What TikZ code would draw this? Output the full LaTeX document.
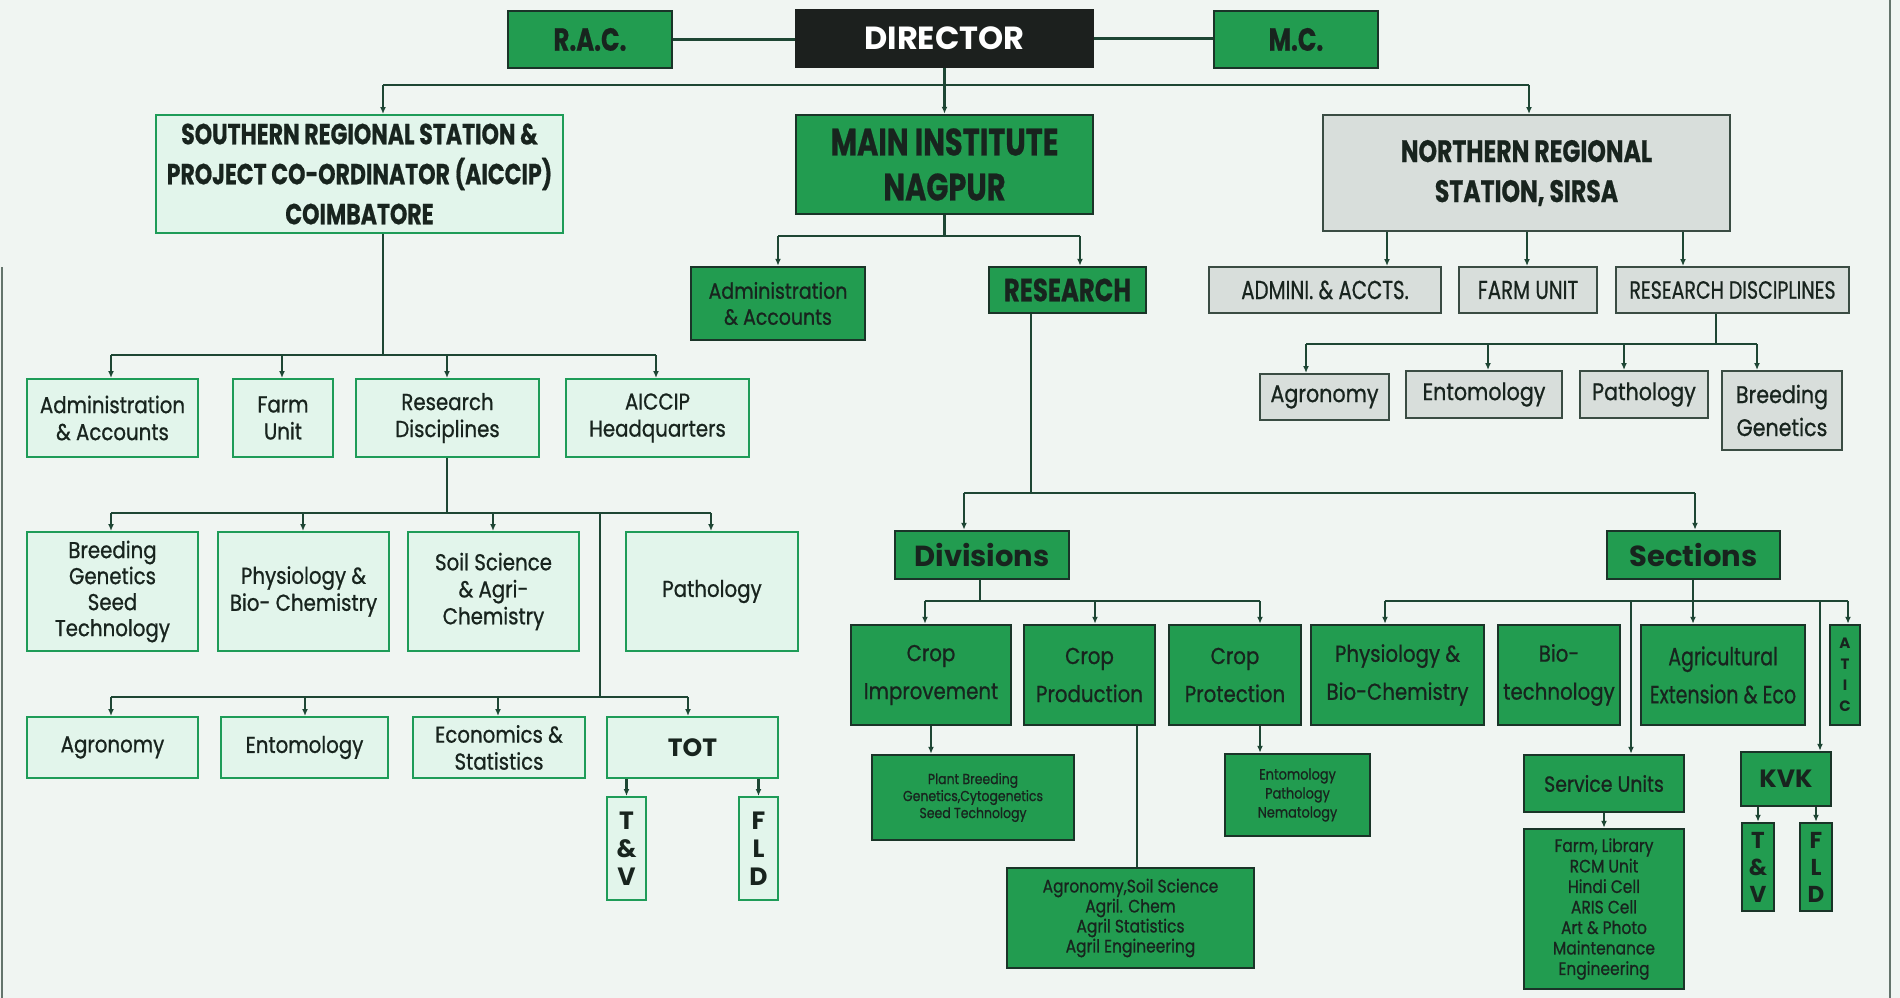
\documentclass[tikz,border=0pt]{standalone}
\usepackage{fontspec}
\setmainfont{Poppins}
\newfontfamily\cnd[FakeStretch=0.76,FakeBold=0.6]{Poppins}
\newfontfamily\nrw[FakeStretch=0.86,FakeBold=0.8]{Poppins}
\usetikzlibrary{arrows.meta,calc}
\definecolor{bgc}{RGB}{240,245,242}
\definecolor{gfill}{RGB}{34,156,80}
\definecolor{gdark}{RGB}{26,52,40}
\definecolor{lfill}{RGB}{226,245,235}
\definecolor{lborder}{RGB}{30,156,88}
\definecolor{yfill}{RGB}{216,222,219}
\definecolor{ydark}{RGB}{58,76,67}
\definecolor{lc}{RGB}{30,70,52}
\definecolor{tdark}{RGB}{24,36,30}
\definecolor{dfill}{RGB}{28,32,30}
\definecolor{edgec}{RGB}{100,116,108}
\begin{document}
\begin{tikzpicture}[x=1pt,y=-1pt,
  gbox/.style={rectangle,draw=gdark,fill=gfill,line width=2.5pt,text=tdark,align=center,inner sep=0pt},
  lbox/.style={rectangle,draw=lborder,fill=lfill,line width=2pt,text=tdark,align=center,inner sep=0pt},
  ybox/.style={rectangle,draw=ydark,fill=yfill,line width=2pt,text=tdark,align=center,inner sep=0pt},
  dbox/.style={rectangle,draw=dfill,fill=dfill,line width=2pt,text=white,align=center,inner sep=0pt},
  conn/.style={draw=lc,line width=2.5pt},
  arr/.style={conn,-{Latex[length=7pt,width=6pt]}},
  edge/.style={draw=edgec,line width=2pt}]
\fill[bgc] (0,0) rectangle (1900,998);
\useasboundingbox (0,0) rectangle (1900,998);
\draw[edge] (1.5,267) -- (1.5,998);
\draw[edge] (1890,0) -- (1890,998);

% top row
\node[dbox,minimum width=297,minimum height=57,font=\fontsize{32}{36}\selectfont\bfseries] (dir) at (944.5,38.5) {DIRECTOR};
\node[gbox,minimum width=164,minimum height=57,font=\cnd\fontsize{32}{36}\selectfont\bfseries] (rac) at (590,39.5) {R.A.C.};
\node[gbox,minimum width=164,minimum height=57,font=\cnd\fontsize{32}{36}\selectfont\bfseries] (mc) at (1296,39.5) {M.C.};

% second row
\node[lbox,minimum width=407,minimum height=118,font=\cnd\fontsize{29}{40}\selectfont\bfseries] (srs) at (359.5,174) {SOUTHERN REGIONAL STATION \&\\PROJECT CO-ORDINATOR (AICCIP)\\COIMBATORE};
\node[gbox,minimum width=297,minimum height=99,font=\cnd\fontsize{38}{45}\selectfont\bfseries] (main) at (944.5,164.5) {MAIN INSTITUTE\\NAGPUR};
\node[ybox,minimum width=407,minimum height=116,font=\cnd\fontsize{31}{40}\selectfont\bfseries] (nrs) at (1526.5,173) {NORTHERN REGIONAL\\STATION, SIRSA};

% main institute children
\node[gbox,minimum width=174,minimum height=73,font=\nrw\fontsize{22}{26}\selectfont] (adm) at (778,303.5) {Administration\\\& Accounts};
\node[gbox,minimum width=157,minimum height=46,font=\cnd\fontsize{32}{34}\selectfont\bfseries] (res) at (1067.5,290) {RESEARCH};

% northern children
\node[ybox,minimum width=232,minimum height=46,font=\cnd\fontsize{26}{28}\selectfont] (nadm) at (1325,290) {ADMINI. \& ACCTS.};
\node[ybox,minimum width=138,minimum height=46,font=\cnd\fontsize{26}{28}\selectfont] (nfarm) at (1528,290) {FARM UNIT};
\node[ybox,minimum width=233,minimum height=46,font=\cnd\fontsize{25}{28}\selectfont] (nres) at (1732.5,290) {RESEARCH DISCIPLINES};
\node[ybox,minimum width=129,minimum height=46,font=\nrw\fontsize{24}{28}\selectfont] (nagr) at (1324.5,397) {Agronomy};
\node[ybox,minimum width=156,minimum height=47,font=\nrw\fontsize{24}{28}\selectfont] (nent) at (1484,394.5) {Entomology};
\node[ybox,minimum width=128,minimum height=47,font=\nrw\fontsize{24}{28}\selectfont] (npat) at (1644,394.5) {Pathology};
\node[ybox,minimum width=120,minimum height=79,font=\nrw\fontsize{24}{33}\selectfont] (nbre) at (1782,410.5) {Breeding\\Genetics};

% southern children
\node[lbox,minimum width=171,minimum height=78,font=\nrw\fontsize{23}{27}\selectfont] (sadm) at (112.5,418) {Administration\\\& Accounts};
\node[lbox,minimum width=100,minimum height=78,font=\nrw\fontsize{23}{27}\selectfont] (sfarm) at (283,418) {Farm\\Unit};
\node[lbox,minimum width=183,minimum height=78,font=\nrw\fontsize{23}{27}\selectfont] (sres) at (447.5,418) {Research\\Disciplines};
\node[lbox,minimum width=183,minimum height=78,font=\nrw\fontsize{23}{27}\selectfont] (saic) at (657.5,418) {AICCIP\\Headquarters};

\node[lbox,minimum width=171,minimum height=119,font=\nrw\fontsize{23}{26}\selectfont] (sbre) at (112.5,591.5) {Breeding\\Genetics\\Seed\\Technology};
\node[lbox,minimum width=171,minimum height=119,font=\nrw\fontsize{23}{27}\selectfont] (sphy) at (303.5,591.5) {Physiology \&\\Bio- Chemistry};
\node[lbox,minimum width=171,minimum height=119,font=\nrw\fontsize{23}{27}\selectfont] (ssoil) at (493.5,591.5) {Soil Science\\\& Agri-\\Chemistry};
\node[lbox,minimum width=172,minimum height=119,font=\nrw\fontsize{23}{27}\selectfont] (spat) at (712,591.5) {Pathology};

\node[lbox,minimum width=171,minimum height=61,font=\nrw\fontsize{23}{27}\selectfont] (sagr) at (112.5,747.5) {Agronomy};
\node[lbox,minimum width=167,minimum height=61,font=\nrw\fontsize{23}{27}\selectfont] (sent) at (304.5,747.5) {Entomology};
\node[lbox,minimum width=172,minimum height=61,font=\nrw\fontsize{23}{27}\selectfont] (secon) at (499,747.5) {Economics \&\\Statistics};
\node[lbox,minimum width=171,minimum height=61,font=\fontsize{25}{28}\selectfont\bfseries] (tot) at (692.5,747.5) {TOT};
\node[lbox,minimum width=39,minimum height=103,font=\fontsize{25}{28}\selectfont\bfseries] (stv) at (626.5,848.5) {T\\\&\\V};
\node[lbox,minimum width=39,minimum height=103,font=\fontsize{25}{28}\selectfont\bfseries] (sfld) at (758.5,848.5) {F\\L\\D};

% research children
\node[gbox,minimum width=174,minimum height=48,font=\fontsize{29}{34}\selectfont\bfseries] (div) at (982,555) {Divisions};
\node[gbox,minimum width=173,minimum height=48,font=\fontsize{29}{34}\selectfont\bfseries] (sec) at (1693.5,555) {Sections};

\node[gbox,minimum width=160,minimum height=100,font=\nrw\fontsize{23}{38}\selectfont] (cimp) at (931,675) {Crop\\Improvement};
\node[gbox,minimum width=131,minimum height=100,font=\nrw\fontsize{23}{38}\selectfont] (cprod) at (1089.5,675) {Crop\\Production};
\node[gbox,minimum width=132,minimum height=100,font=\nrw\fontsize{23}{38}\selectfont] (cprot) at (1235,675) {Crop\\Protection};
\node[gbox,minimum width=173,minimum height=100,font=\nrw\fontsize{23}{38}\selectfont] (phy2) at (1397.5,675) {Physiology \&\\Bio-Chemistry};
\node[gbox,minimum width=122,minimum height=100,font=\nrw\fontsize{23}{38}\selectfont] (bio) at (1559,675) {Bio-\\technology};
\node[gbox,minimum width=164,minimum height=100,font=\cnd\fontsize{25}{38}\selectfont] (agext) at (1723,675) {Agricultural\\Extension \& Eco};
\node[gbox,minimum width=30,minimum height=100,font=\fontsize{15}{21}\selectfont\bfseries] (atic) at (1845,675) {A\\T\\I\\C};

\node[gbox,minimum width=202,minimum height=85,font=\nrw\fontsize{14.5}{17}\selectfont] (pbre) at (973,797.5) {Plant Breeding\\Genetics,Cytogenetics\\Seed Technology};
\node[gbox,minimum width=247,minimum height=100,font=\nrw\fontsize{18}{20}\selectfont] (agsoil) at (1130.5,918) {Agronomy,Soil Science\\Agril. Chem\\Agril Statistics\\Agril Engineering};
\node[gbox,minimum width=145,minimum height=82,font=\nrw\fontsize{15}{19}\selectfont] (epn) at (1297.5,795) {Entomology\\Pathology\\Nematology};

\node[gbox,minimum width=160,minimum height=57,font=\nrw\fontsize{22}{26}\selectfont] (svc) at (1604,783.5) {Service Units};
\node[gbox,minimum width=160,minimum height=160,font=\nrw\fontsize{18}{20.5}\selectfont] (flist) at (1604,909) {Farm, Library\\RCM Unit\\Hindi Cell\\ARIS Cell\\Art \& Photo\\Maintenance\\Engineering};
\node[gbox,minimum width=90,minimum height=54,font=\fontsize{25}{30}\selectfont\bfseries] (kvk) at (1786,779) {KVK};
\node[gbox,minimum width=32,minimum height=88,font=\fontsize{23}{27}\selectfont\bfseries] (ktv) at (1758,867) {T\\\&\\V};
\node[gbox,minimum width=32,minimum height=88,font=\fontsize{23}{27}\selectfont\bfseries] (kfld) at (1816,867) {F\\L\\D};

% ---- connectors ----
\draw[conn] (rac.east) -- (rac.east -| dir.west);
\draw[conn] (dir.east) -- (dir.east -| mc.west);
\coordinate (b0) at (944.5,85);
\coordinate (bL) at (383,85);
\coordinate (bR) at (1529,85);
\draw[conn] (dir.south) -- (b0);
\draw[conn] (bL) -- (bR);
\draw[arr] (bL) -- (bL |- srs.north);
\draw[arr] (b0) -- (main.north);
\draw[arr] (bR) -- (bR |- nrs.north);

% main institute
\coordinate (mb) at (944.5,236);
\coordinate (mbL) at (778,236);
\coordinate (mbR) at (1080,236);
\draw[conn] (main.south) -- (mb);
\draw[conn] (mbL) -- (mbR);
\draw[arr] (mbL) -- (adm.north);
\draw[arr] (mbR) -- (mbR |- res.north);

% northern
\draw[arr] (nrs.south -| 1387,0) -- (1387,0 |- nadm.north);
\draw[arr] (nrs.south -| 1527,0) -- (1527,0 |- nfarm.north);
\draw[arr] (nrs.south -| 1683,0) -- (1683,0 |- nres.north);
\coordinate (nb) at (1716,344);
\coordinate (nbL) at (1306,344);
\coordinate (nbR) at (1757,344);
\draw[conn] (nres.south -| nb) -- (nb);
\draw[conn] (nbL) -- (nbR);
\draw[arr] (nbL) -- (nbL |- nagr.north);
\draw[arr] (1488,344) -- (1488,0 |- nent.north);
\draw[arr] (1624,344) -- (1624,0 |- npat.north);
\draw[arr] (nbR) -- (nbR |- nbre.north);

% southern
\coordinate (sb) at (383,355);
\coordinate (sbL) at (111,355);
\coordinate (sbR) at (656,355);
\draw[conn] (srs.south -| sb) -- (sb);
\draw[conn] (sbL) -- (sbR);
\draw[arr] (sbL) -- (sbL |- sadm.north);
\draw[arr] (282,355) -- (282,0 |- sfarm.north);
\draw[arr] (447,355) -- (447,0 |- sres.north);
\draw[arr] (sbR) -- (sbR |- saic.north);

\coordinate (rb) at (447,513);
\coordinate (rbL) at (111,513);
\coordinate (rbR) at (711,513);
\coordinate (rbM) at (600,513);
\draw[conn] (sres.south -| rb) -- (rb);
\draw[conn] (rbL) -- (rbR);
\draw[arr] (rbL) -- (rbL |- sbre.north);
\draw[arr] (303,513) -- (303,0 |- sphy.north);
\draw[arr] (493,513) -- (493,0 |- ssoil.north);
\draw[arr] (rbR) -- (rbR |- spat.north);

\coordinate (tb) at (600,697);
\coordinate (tbL) at (111,697);
\coordinate (tbR) at (688,697);
\draw[conn] (rbM) -- (tb);
\draw[conn] (tbL) -- (tbR);
\draw[arr] (tbL) -- (tbL |- sagr.north);
\draw[arr] (305,697) -- (305,0 |- sent.north);
\draw[arr] (498,697) -- (498,0 |- secon.north);
\draw[arr] (tbR) -- (tbR |- tot.north);
\draw[arr] (tot.south -| stv) -- (stv.north);
\draw[arr] (tot.south -| sfld) -- (sfld.north);

% research
\coordinate (qb) at (1031,493);
\coordinate (qbL) at (964,493);
\coordinate (qbR) at (1695,493);
\draw[conn] (res.south -| qb) -- (qb);
\draw[conn] (qbL) -- (qbR);
\draw[arr] (qbL) -- (qbL |- div.north);
\draw[arr] (qbR) -- (qbR |- sec.north);

\coordinate (db) at (980,601);
\coordinate (dbL) at (925,601);
\coordinate (dbR) at (1260,601);
\draw[conn] (div.south -| db) -- (db);
\draw[conn] (dbL) -- (dbR);
\draw[arr] (dbL) -- (dbL |- cimp.north);
\draw[arr] (1095,601) -- (1095,0 |- cprod.north);
\draw[arr] (dbR) -- (dbR |- cprot.north);

\coordinate (eb) at (1693,601);
\coordinate (ebL) at (1385,601);
\coordinate (ebR) at (1848,601);
\draw[arr] (sec.south -| eb) -- (eb |- agext.north);
\draw[conn] (ebL) -- (ebR);
\draw[arr] (ebL) -- (ebL |- phy2.north);
\draw[arr] (ebR) -- (ebR |- atic.north);
\draw[arr] (1631,601) -- (1631,0 |- svc.north);
\draw[arr] (1820,601) -- (1820,0 |- kvk.north);

\draw[arr] (cimp.south) -- (cimp.south |- pbre.north);
\draw[conn] (cprod.south -| 1137,0) -- (1137,0 |- agsoil.north);
\draw[arr] (cprot.south -| 1260,0) -- (1260,0 |- epn.north);
\draw[arr] (svc.south) -- (flist.north);
\draw[arr] (kvk.south -| ktv) -- (ktv.north);
\draw[arr] (kvk.south -| kfld) -- (kfld.north);
\end{tikzpicture}
\end{document}
